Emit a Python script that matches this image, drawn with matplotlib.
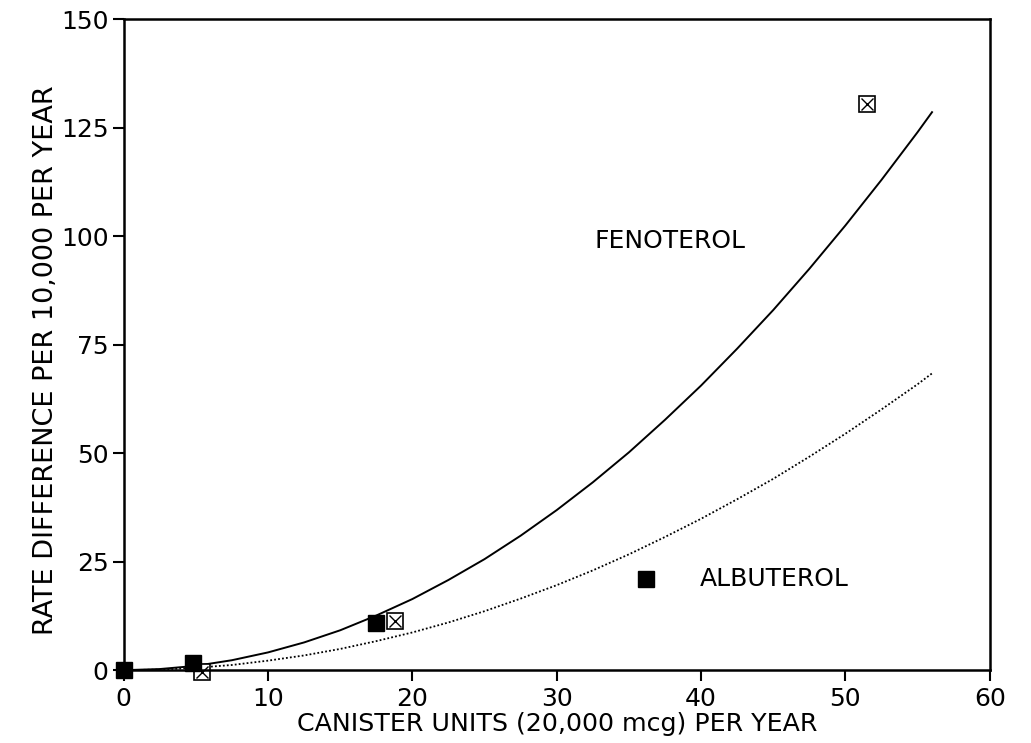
import numpy as np
import matplotlib.pyplot as plt

plt.rcParams['font.family'] = ['DejaVu Sans']

# fitted curves
curve_x = [0, 2.5, 5, 7.5, 10, 12.5, 15, 17.5, 20, 22.5, 25, 27.5, 30, 32.5,
           35, 37.5, 40, 42.5, 45, 47.5, 50, 52.5, 55, 56]
fenoterol_curve = [0, 0.26, 1.0, 2.3, 4.1, 6.4, 9.2, 12.6, 16.4, 20.8, 25.6, 31.0,
                   36.9, 43.3, 50.2, 57.7, 65.6, 74.1, 83.0, 92.5, 102.5, 113.0,
                   124.0, 128.6]
albuterol_curve = [0, 0.14, 0.55, 1.2, 2.2, 3.4, 4.9, 6.7, 8.7, 11.0, 13.6, 16.5,
                   19.6, 23.0, 26.7, 30.7, 34.9, 39.4, 44.1, 49.2, 54.5, 60.1,
                   65.9, 68.4]

# observed points
filled_x = [0, 4.8, 17.5, 36.2]
filled_y = [0, 1.6, 10.9, 21.0]
open_x = [5.4, 18.8, 51.5]
open_y = [-0.5, 11.4, 130.4]

x_ticks = [0, 10, 20, 30, 40, 50, 60]
y_ticks = [0, 25, 50, 75, 100, 125, 150]

fig = plt.figure(figsize=(10.31, 7.43), dpi=100)
ax = fig.add_axes([0.120, 0.098, 0.840, 0.876])

ax.plot(curve_x, fenoterol_curve, color='black', lw=1.4)
ax.plot(curve_x, albuterol_curve, color='black', lw=1.3, ls=(0, (1, 1.2)))

ax.plot(open_x, open_y, 's', ms=11, mfc='white', mec='black', mew=1.2, clip_on=False)
ax.plot(open_x, open_y, 'x', ms=9, color='black', mew=1.0, clip_on=False)
ax.plot(filled_x, filled_y, 's', ms=11, color='black', clip_on=False, zorder=5)

ax.text(32.6, 99, 'FENOTEROL', fontsize=18, va='center', ha='left')
ax.text(39.9, 21, 'ALBUTEROL', fontsize=18, va='center', ha='left')

ax.set_xlim(0, 60)
ax.set_ylim(0, 150)
ax.set_xticks(x_ticks)
ax.set_yticks(y_ticks)
ax.tick_params(direction='out', length=8, width=1.5, labelsize=18, pad=3)
ax.tick_params(axis='x', pad=4)
for s in ax.spines.values():
    s.set_linewidth(1.8)

ax.set_xlabel('CANISTER UNITS (20,000 mcg) PER YEAR', fontsize=18.2, labelpad=1)
ax.set_ylabel('RATE DIFFERENCE PER 10,000 PER YEAR', fontsize=19.5)
ax.yaxis.set_label_coords(-0.075, 0.476)

fig.savefig('out.png', dpi=100)
